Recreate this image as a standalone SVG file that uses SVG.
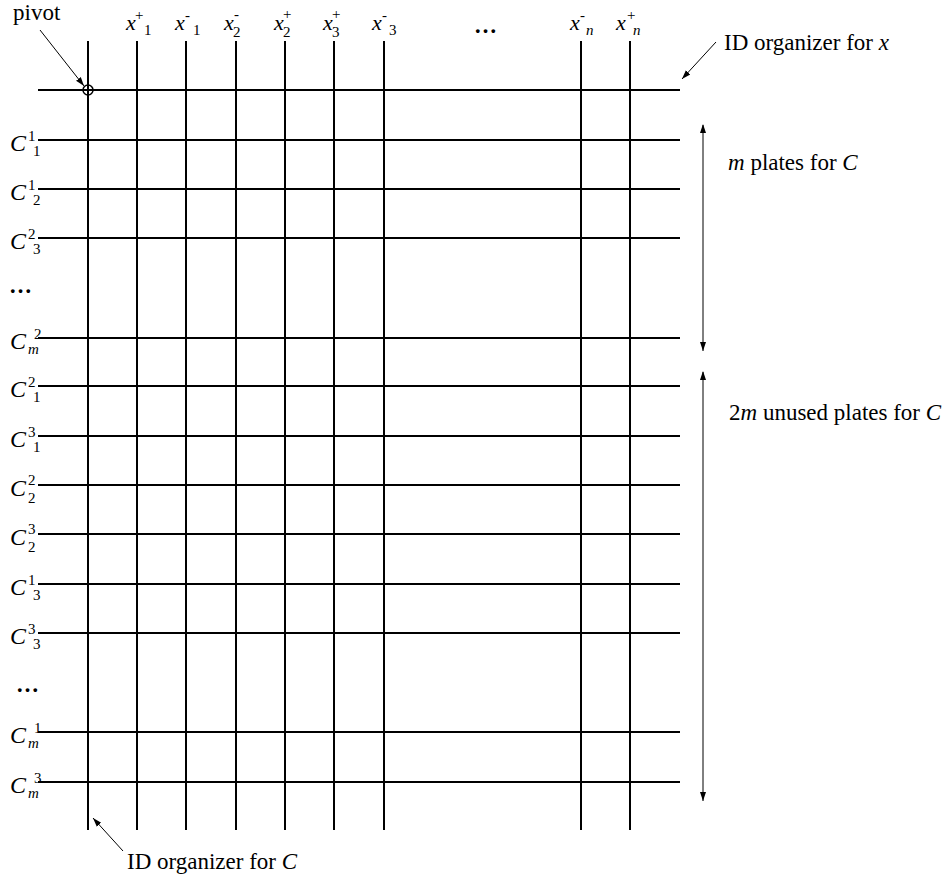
<svg xmlns="http://www.w3.org/2000/svg" width="948" height="878" viewBox="0 0 948 878">
<style>
.g{stroke:#000;stroke-width:2;fill:none}
.a{stroke:#000;stroke-width:1;fill:none}
text{font-family:"Liberation Serif","Times New Roman",serif;fill:#000}
.cap{font-size:23px}
.v{font-style:italic}
.xl{font-size:22px;font-style:italic}
.cl{font-size:24px;font-style:italic}
.s{font-size:15px;font-style:normal}
.si{font-size:15px;font-style:italic}
</style>
<defs>
<marker id="ah" markerUnits="userSpaceOnUse" markerWidth="10" markerHeight="8" refX="9" refY="4" orient="auto">
<path d="M0,1 L9,4 L0,7 Z" fill="#000"/>
</marker>
<marker id="as" markerUnits="userSpaceOnUse" markerWidth="10" markerHeight="8" refX="1" refY="4" orient="auto">
<path d="M9,1 L0,4 L9,7 Z" fill="#000"/>
</marker>
</defs>
<rect width="948" height="878" fill="#fff"/>
<g id="grid">
<g id="columns" class="g">
<line x1="88" y1="41" x2="88" y2="830"/>
<line x1="137" y1="41" x2="137" y2="830"/>
<line x1="186" y1="41" x2="186" y2="830"/>
<line x1="236" y1="41" x2="236" y2="830"/>
<line x1="285" y1="41" x2="285" y2="830"/>
<line x1="334" y1="41" x2="334" y2="830"/>
<line x1="384" y1="41" x2="384" y2="830"/>
<line x1="581" y1="41" x2="581" y2="830"/>
<line x1="630" y1="41" x2="630" y2="830"/>
</g>
<g id="rows" class="g">
<line x1="38" y1="90" x2="680" y2="90"/>
<line x1="38" y1="140" x2="680" y2="140"/>
<line x1="38" y1="189" x2="680" y2="189"/>
<line x1="38" y1="238" x2="680" y2="238"/>
<line x1="38" y1="338" x2="680" y2="338"/>
<line x1="38" y1="386" x2="680" y2="386"/>
<line x1="38" y1="436" x2="680" y2="436"/>
<line x1="38" y1="485" x2="680" y2="485"/>
<line x1="38" y1="534" x2="680" y2="534"/>
<line x1="38" y1="584" x2="680" y2="584"/>
<line x1="38" y1="633" x2="680" y2="633"/>
<line x1="38" y1="732" x2="680" y2="732"/>
<line x1="38" y1="782" x2="680" y2="782"/>
</g>
<circle id="pivot-node" cx="88" cy="90" r="5" fill="none" stroke="#000" stroke-width="1.5"/>
</g>
<g id="labels-x">
<text class="xl" x="126" y="30">x<tspan class="s" x="135" y="20">+</tspan><tspan class="s" x="144" y="35">1</tspan></text>
<text class="xl" x="175" y="30">x<tspan class="s" x="185" y="20">-</tspan><tspan class="s" x="193" y="35">1</tspan></text>
<text class="xl" x="224" y="30">x<tspan class="s" x="234" y="19">-</tspan><tspan class="s" x="233" y="37">2</tspan></text>
<text class="xl" x="274" y="30">x<tspan class="s" x="283" y="19">+</tspan><tspan class="s" x="283" y="37">2</tspan></text>
<text class="xl" x="323" y="30">x<tspan class="s" x="332" y="19">+</tspan><tspan class="s" x="332" y="37">3</tspan></text>
<text class="xl" x="372" y="30">x<tspan class="s" x="382" y="20">-</tspan><tspan class="s" x="389" y="35">3</tspan></text>
<text class="cap" x="474" y="33" style="font-weight:bold">…</text>
<text class="xl" x="570" y="30">x<tspan class="s" x="580" y="20">-</tspan><tspan class="si" x="586" y="35">n</tspan></text>
<text class="xl" x="616" y="30">x<tspan class="s" x="627" y="20">+</tspan><tspan class="si" x="633" y="35">n</tspan></text>
</g>
<g id="labels-c">
<text class="cl" x="10" y="151">C<tspan class="s" x="28" y="141">1</tspan><tspan class="s" x="33" y="156">1</tspan></text>
<text class="cl" x="10" y="200">C<tspan class="s" x="28" y="190">1</tspan><tspan class="s" x="33" y="205">2</tspan></text>
<text class="cl" x="10" y="249">C<tspan class="s" x="28" y="239">2</tspan><tspan class="s" x="33" y="254">3</tspan></text>
<text class="cap" x="9" y="293" style="font-weight:bold">…</text>
<text class="cl" x="10" y="349">C<tspan class="s" x="34" y="339">2</tspan><tspan class="si" x="28" y="354">m</tspan></text>
<text class="cl" x="10" y="397">C<tspan class="s" x="28" y="387">2</tspan><tspan class="s" x="33" y="402">1</tspan></text>
<text class="cl" x="10" y="447">C<tspan class="s" x="28" y="437">3</tspan><tspan class="s" x="33" y="452">1</tspan></text>
<text class="cl" x="10" y="496">C<tspan class="s" x="28" y="485">2</tspan><tspan class="s" x="28" y="503">2</tspan></text>
<text class="cl" x="10" y="545">C<tspan class="s" x="28" y="534">3</tspan><tspan class="s" x="28" y="552">2</tspan></text>
<text class="cl" x="10" y="595">C<tspan class="s" x="28" y="585">1</tspan><tspan class="s" x="33" y="600">3</tspan></text>
<text class="cl" x="10" y="644">C<tspan class="s" x="28" y="634">3</tspan><tspan class="s" x="33" y="649">3</tspan></text>
<text class="cap" x="16" y="692" style="font-weight:bold">…</text>
<text class="cl" x="10" y="743">C<tspan class="s" x="34" y="733">1</tspan><tspan class="si" x="28" y="748">m</tspan></text>
<text class="cl" x="10" y="793">C<tspan class="s" x="34" y="783">3</tspan><tspan class="si" x="28" y="798">m</tspan></text>
</g>
<g id="annotations">
<text id="pivot-label" class="cap" x="13" y="20">pivot</text>
<text id="idx-label" class="cap" x="724" y="50">ID organizer for <tspan class="v">x</tspan></text>
<text id="idc-label" class="cap" x="127" y="869">ID organizer for <tspan class="v">C</tspan></text>
<text id="mplates-label" class="cap" x="728" y="170"><tspan class="v">m</tspan> plates for <tspan class="v">C</tspan></text>
<text id="unused-label" class="cap" x="729" y="420">2<tspan class="v">m</tspan> unused plates for <tspan class="v">C</tspan></text>
</g>
<g id="connectors" class="a">
<line x1="40" y1="30" x2="84" y2="86" marker-end="url(#ah)"/>
<line x1="716" y1="42" x2="682" y2="79" marker-end="url(#ah)"/>
<line x1="123" y1="851" x2="93" y2="818" marker-end="url(#ah)"/>
<line x1="703" y1="125" x2="703" y2="351" marker-start="url(#as)" marker-end="url(#ah)"/>
<line x1="703" y1="372" x2="703" y2="801" marker-start="url(#as)" marker-end="url(#ah)"/>
</g>
</svg>
